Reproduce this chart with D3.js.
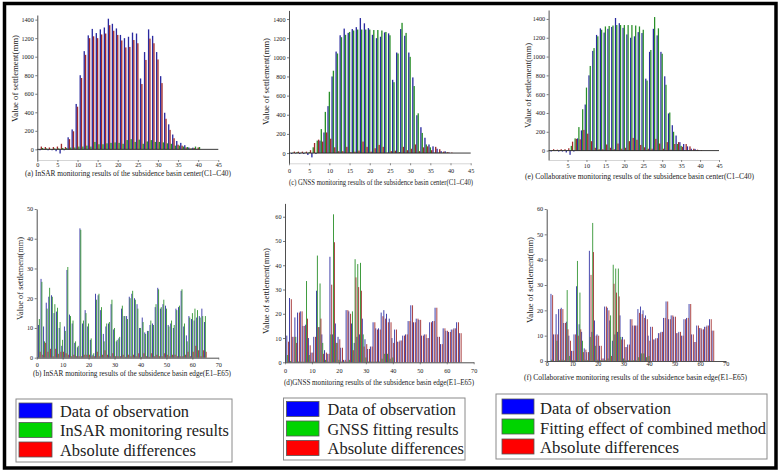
<!DOCTYPE html>
<html><head><meta charset="utf-8">
<script src="https://cdn.jsdelivr.net/npm/d3@7"></script>
<style>
body{margin:0;background:#fff}
svg{display:block}
text{font-family:"Liberation Serif","DejaVu Serif",serif;fill:#222}
</style>
</head><body>
<svg id="chart" width="782" height="472"></svg>
<script>
// ---------- data ----------
const centerPoints = d3.range(1, 41);   // C1..C40
const edgePoints = d3.range(1, 66);     // E1..E65

const obsCenter = [-10,-5,-10,-10,-20,-45,-10,130,215,490,800,1060,1230,1300,1255,1295,1315,1410,1355,1305,1235,1200,1215,1260,1250,765,1050,1295,1225,1050,790,395,270,160,90,70,45,20,18,5];
const insarCenter = [15,10,5,10,10,15,15,20,20,30,30,40,30,80,55,55,65,70,75,70,60,100,110,80,105,60,85,100,80,80,75,65,60,40,40,30,25,10,30,25];
const diffInsarCenter = [30,25,20,25,30,60,25,110,195,460,770,1020,1200,1220,1200,1240,1250,1340,1280,1235,1175,1100,1105,1180,1145,705,965,1195,1145,970,715,330,210,120,50,40,20,10,15,20];
const gnssCenter = [5,10,5,5,10,60,130,250,430,640,860,1040,1210,1235,1265,1280,1290,1290,1290,1290,1285,1285,1280,1265,1230,740,1040,1360,1255,1005,700,415,210,90,60,5,5,5,5,0];
const diffGnssCenter = [15,15,15,15,30,105,140,120,215,150,60,20,20,65,10,15,25,120,65,15,50,85,65,5,20,25,10,65,30,45,90,20,60,70,30,65,40,15,10,5];
const combCenter = [5,5,5,5,5,50,130,250,440,670,900,1090,1215,1285,1320,1325,1330,1335,1335,1335,1335,1335,1330,1320,1285,745,1070,1420,1300,1030,700,405,200,70,50,5,5,0,5,0];
const diffCombCenter = [15,10,15,15,25,95,125,120,220,180,100,30,15,15,65,30,15,75,20,30,100,135,115,60,35,20,20,125,75,20,90,10,70,90,40,70,45,20,10,5];

const obsEdge = [11,26.5,10.5,18.5,20.5,21,15,15.5,10,4,10.5,29.5,14.5,11.5,5,3.5,43.5,11.5,16,10.5,6,1,21.5,21,16,8,10.5,11.5,18,9.5,5.5,6.5,16.5,14,14,20.5,21.5,20,18,10,13.5,8.5,9,11,11.5,17,23.5,16.5,18,17.5,11,11.5,10,16.5,17,22.5,10.5,7.5,14,13,12.5,13.5,14,16.5,12];
const insarEdge = [13,25.5,5.5,16.5,23.5,20.5,18,16.8,12,6,9,30.5,14,12.5,5.5,4,43,12.5,15,11.5,6.5,1.5,19.5,21.5,17,5.5,11.5,12,19.5,10,6,7,17.5,14,13,20,22.5,19.5,16.5,10,12,8,9,12.5,11,18,23,17,19.5,16.5,10.5,12.5,11,16,17.5,23,11.5,5.5,13.5,15,16.5,16,13.5,14,14];
const diffInsarEdge = [2,1,5,2,3,0.5,3,1.3,2,2,1.5,1,0.5,1,0.5,0.5,0.5,1,1,1,0.5,0.5,2,0.5,1,2.5,1,0.5,1.5,0.5,0.5,0.5,1,0.3,1,0.5,1,0.5,1.5,0.3,1.5,0.5,0.3,1.5,0.5,1,0.5,0.5,1.5,1,0.5,1,1,0.5,0.5,0.5,1,2,0.5,2,4,2.5,0.5,2.5,2];
const gnssEdge = [3,0.5,0,10.5,0.3,0.3,0.3,33.5,3,0.3,0.3,44,32.5,8,1,0.3,11.5,61,8,1,0.3,0.3,0.3,1,21,42.5,40.5,41,11.5,2,0.3,0.3,0.3,0.3,0.3,1.5,3.5,3.5,1.5,2,0,0,0,0,0,0,0,0,0,0,0,0,0,0,0,0,0,0,0,0,0,0,0,0,0];
const diffGnssEdge = [8.5,26,10.5,8,20.5,21,15,18,7,4,10.5,14.5,18,3.5,4,3.5,32,49.5,8,9.5,6,1,21.5,20,5,35,31,29.5,6.5,7.5,5.5,6.5,16.5,13.5,13.5,19,18,16.5,16.5,8,13.5,8.5,9,11,11.5,17,23.5,16.5,18,17.5,11,11.5,10,16.5,17,22.5,10.5,7.5,14,13,12.5,13.5,14,16.5,12];
const combEdge = [0,0.5,0,8,0.3,0.5,0.3,28,2,0.3,0.3,39.5,27,8,0.5,0.3,9.5,54.5,6,0.5,0.3,0.3,0.3,1,18,38,36.5,36.5,9.5,1,0.3,0.3,0.3,0.3,0.3,1.5,3,3,1.5,2,0,0,0,0,0,0,0,0,0,0,0,0,0,0,0,0,0,0,0,0,0,0,0,0,0];
const diffCombEdge = [0,26,10.5,10.5,20.5,20.5,15,12.5,8,4,10.5,10,12.5,3.5,4.5,3.5,34,43,10,10,6,1,21.5,20,2,30.5,27,25.5,8.5,8.5,5.5,6.5,16.5,14,14,19,18.5,17,16.5,8,13.5,8.5,9,11,11.5,17,23.5,16.5,18,17.5,11,11.5,10,16.5,17,22.5,10.5,7.5,14,13,12.5,13.5,14,16.5,12];

const centerTicksY = [0,200,400,600,800,1000,1200,1400];
const centerTicksX = [0,5,10,15,20,25,30,35,40,45];
const edgeTicksX = [0,10,20,30,40,50,60,70];

const titles = {
  a: "(a) InSAR monitoring results of the subsidence basin center(C1\u2013C40)",
  b: "(b) InSAR monitoring results of the subsidence basin edge(E1\u2013E65)",
  c: "(c) GNSS monitoring results of the subsidence basin center(C1\u2013C40)",
  d: "(d)GNSS monitoring results of the subsidence basin edge(E1\u2013E65)",
  e: "(e) Collaborative monitoring results of the subsidence basin center(C1\u2013C40)",
  f: "(f) Collaborative monitoring results of the subsidence basin edge(E1\u2013E65)"
};
const yLabel = "Value of settlement(mm)";
const legendLabels = [
  ["Data of observation","InSAR monitoring results","Absolute differences"],
  ["Data of observation","GNSS fitting results","Absolute differences"],
  ["Data of observation","Fitting effect of combined method","Absolute differences"]
];

// ---------- style ----------
const SERIF = "'Liberation Serif','DejaVu Serif',serif";
const BLUE = "#2a2aa0", GREEN = "#288f28", RED = "#a02a2a";
const LBLUE = "#0000ff", LGREEN = "#00d400", LRED = "#ff0000";

const svg = d3.select("#chart");
svg.append("rect").attr("width",782).attr("height",472).attr("fill","#fff");

const panels = [
  {k:"a", pts:centerPoints, xd:[0,45], xr:[37.3,218.3], yd:[-115,1450], yr:[160,15], yt:centerTicksY, xt:centerTicksX,
   series:[[obsCenter,BLUE],[diffInsarCenter,RED],[insarCenter,GREEN]], center:true, lblY:166.5,
   title:[25,176,206], ylab:[15,78.5,87]},
  {k:"c", pts:centerPoints, xd:[0,45], xr:[289,470.7], yd:[-107,1490], yr:[163.3,10.4], yt:centerTicksY, xt:centerTicksX,
   series:[[obsCenter,BLUE],[gnssCenter,GREEN],[diffGnssCenter,RED]], center:true, lblY:173,
   title:[289,185,184], ylab:[266.7,81.5,87]},
  {k:"e", pts:centerPoints, xd:[0,45], xr:[548.6,719], yd:[-100,1495], yr:[160,10], yt:centerTicksY, xt:centerTicksX.slice(1),
   series:[[obsCenter,BLUE],[combCenter,GREEN],[diffCombCenter,RED]], center:true, lblY:168,
   title:[525,178.5,229], ylab:[528,85.5,85]},
  {k:"b", pts:edgePoints, xd:[0,70], xr:[36.7,218.3], yd:[0,50], yr:[357.7,209], yt:[0,10,20,30,40,50], xt:edgeTicksX,
   series:[[obsEdge,BLUE],[insarEdge,GREEN],[diffInsarEdge,RED]], center:false, lblY:366.5,
   title:[33,376,198], ylab:[20,278.5,83]},
  {k:"d", pts:edgePoints, xd:[0,70], xr:[285,473.7], yd:[0,65.5], yr:[362.3,203.4], yt:[0,10,20,30,40,50,60], xt:edgeTicksX,
   series:[[obsEdge,BLUE],[gnssEdge,GREEN],[diffGnssEdge,RED]], center:false, lblY:373,
   title:[284,385,190], ylab:[266.7,291,86]},
  {k:"f", pts:edgePoints, xd:[0,70], xr:[546.7,725.7], yd:[0,60], yr:[361,209], yt:[0,10,20,30,40,50,60], xt:edgeTicksX,
   series:[[obsEdge,BLUE],[combEdge,GREEN],[diffCombEdge,RED]], center:false, lblY:366, skipFirst:true,
   title:[524,379.5,223], ylab:[530,280,86]}
];

panels.forEach(p => {
  const g = svg.append("g");
  const x = d3.scaleLinear().domain(p.xd).range(p.xr);
  const y = d3.scaleLinear().domain(p.yd).range(p.yr);
  const step = x(1) - x(0);
  const bw = step * 0.33;

  p.series.forEach(([vals, col], si) => {
    const data = p.pts.map((n, i) => ({n, v: vals[i]}))
      .filter((d, i) => !(p.skipFirst && i === 0));
    g.append("g").selectAll("rect").data(data).join("rect")
      .attr("x", d => x(d.n) + (si - 1.5) * bw)
      .attr("width", bw)
      .attr("y", d => Math.min(y(0), y(d.v)))
      .attr("height", d => Math.abs(y(d.v) - y(0)))
      .attr("fill", col);
  });

  const ya = g.append("g").attr("transform", `translate(${p.xr[0]},0)`)
    .call(d3.axisLeft(y).tickValues(p.yt).tickFormat(d3.format("d")).tickSize(2).tickSizeOuter(0).tickPadding(1.5));
  ya.attr("font-family", SERIF);
  ya.select(".domain").attr("stroke", "#222").attr("stroke-width", 0.8);
  ya.selectAll(".tick line").attr("stroke", "#222").attr("stroke-width", 0.6);
  ya.selectAll("text").style("font-family", SERIF).style("font-size", "6.2px").attr("fill", "#333");

  const baseY = p.center ? p.yr[0] : y(0);
  const xa = g.append("g").attr("transform", `translate(0,${baseY})`)
    .call(d3.axisBottom(x).tickValues(p.xt).tickFormat(d3.format("d")).tickSize(2).tickSizeOuter(0).tickPadding(1));
  xa.attr("font-family", SERIF);
  xa.select(".domain").attr("stroke", p.center ? "#b8b8b8" : "#222").attr("stroke-width", p.center ? 0.6 : 0.8);
  xa.selectAll(".tick line").attr("stroke", "#444").attr("stroke-width", 0.6);
  xa.selectAll("text").style("font-family", SERIF).style("font-size", "6.2px").attr("fill", "#333")
    .attr("y", null).attr("dy", null).attr("transform", `translate(0,${p.lblY - baseY})`);

  if (p.center) {
    g.append("line").attr("x1", x(0)).attr("x2", x(45)).attr("y1", y(0)).attr("y2", y(0))
      .attr("stroke", "#222").attr("stroke-width", 0.9);
  }

  g.append("text").attr("x", p.title[0]).attr("y", p.title[1])
    .attr("textLength", p.title[2]).attr("lengthAdjust", "spacingAndGlyphs")
    .style("font-family", SERIF).style("font-size", "7.6px").text(titles[p.k]);
  g.append("text").attr("transform", `translate(${p.ylab[0]},${p.ylab[1]}) rotate(-90)`)
    .attr("text-anchor", "middle").attr("dy", "0.33em")
    .attr("textLength", p.ylab[2]).attr("lengthAdjust", "spacingAndGlyphs")
    .style("font-family", SERIF).style("font-size", "8.4px").text(yLabel);
});

// ---------- legends ----------
const legends = [
  {box:[16,399,216,63], sw:[19,33], tx:60, rows:[403,422.5,442], base:[416.5,436,455.5], widths:[129,169,136]},
  {box:[283.5,398,181.5,62], sw:[286.5,32.5], tx:327.5, rows:[401.5,421,440.5], base:[415,434.5,454], widths:[128.5,131,136.5]},
  {box:[496,394,271,65], sw:[502,32], tx:540, rows:[399,419,439], base:[413.5,433.5,453], widths:[131,226,139]}
];
const legendColors = [LBLUE, LGREEN, LRED];
legends.forEach((L, li) => {
  const g = svg.append("g");
  g.append("rect").attr("x", L.box[0]).attr("y", L.box[1]).attr("width", L.box[2]).attr("height", L.box[3])
    .attr("fill", "#fff").attr("stroke", "#8a8a8a").attr("stroke-width", 1);
  legendLabels[li].forEach((lab, ri) => {
    g.append("rect").attr("x", L.sw[0]).attr("y", L.rows[ri]).attr("width", L.sw[1]).attr("height", 15)
      .attr("fill", legendColors[ri]).attr("stroke", "#555").attr("stroke-width", 0.8);
    g.append("text").attr("x", L.tx).attr("y", L.base[ri])
      .attr("textLength", L.widths[ri]).attr("lengthAdjust", "spacingAndGlyphs")
      .style("font-family", SERIF).style("font-size", "16.5px").attr("fill", "#111").text(lab);
  });
});

svg.append("rect").attr("x", 4.5).attr("y", 3.5).attr("width", 771.5).attr("height", 464.5)
  .attr("fill", "none").attr("stroke", "#000").attr("stroke-width", 3.5);
</script>
</body></html>
